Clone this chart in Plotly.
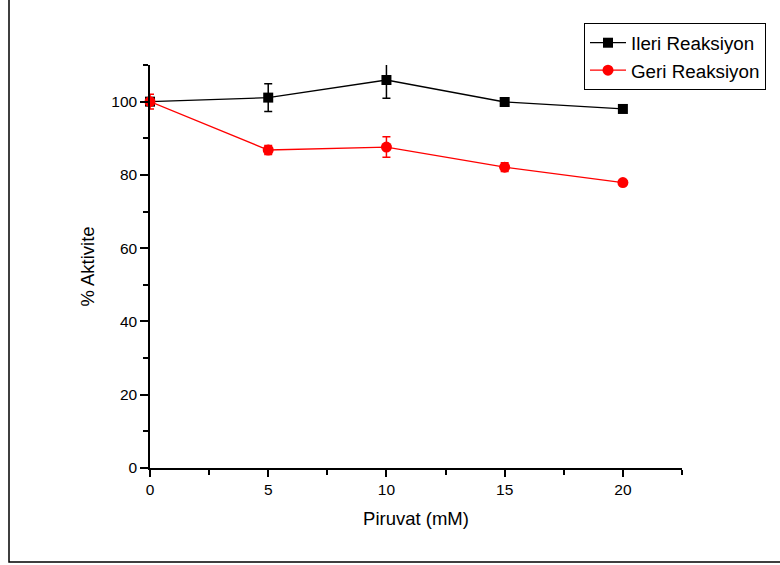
import plotly.graph_objects as go

piruvat = [0, 5, 10, 15, 20]
ileri = [100.0, 101.1, 105.9, 99.9, 98.0]
ileri_err = [0.6, 3.8, 5.0, 0.5, 0.8]
geri = [100.0, 86.8, 87.6, 82.1, 77.9]
geri_err = [2.0, 1.2, 2.8, 1.2, 0.6]

FONT = "Liberation Sans, Arial, sans-serif"

fig = go.Figure()
fig.add_trace(go.Scatter(
    x=piruvat, y=ileri, name="Ileri Reaksiyon", mode="lines+markers",
    line=dict(color="black", width=1.3),
    marker=dict(symbol="square", size=10, color="black"),
    error_y=dict(type="data", array=ileri_err, color="black", thickness=1.5, width=4),
    cliponaxis=False,
))
fig.add_trace(go.Scatter(
    x=piruvat, y=geri, name="Geri Reaksiyon", mode="lines+markers",
    line=dict(color="red", width=1.3),
    marker=dict(symbol="circle", size=11, color="red"),
    error_y=dict(type="data", array=geri_err, color="red", thickness=1.5, width=4),
    cliponaxis=False,
))

W, H = 780, 565
L, R, T, B = 150, 98, 65, 97
pw, ph = W - L - R, H - T - B

def px(xp):
    return (xp - L) / pw

def py(yp):
    return (H - B - yp) / ph

fig.update_layout(
    width=W, height=H,
    margin=dict(l=L, r=R, t=T, b=B),
    paper_bgcolor="white", plot_bgcolor="white",
    font=dict(family=FONT, size=15, color="black"),
    showlegend=True,
    legend=dict(
        x=px(584), y=py(23), xanchor="left", yanchor="top",
        bgcolor="white", bordercolor="black", borderwidth=1,
        font=dict(family=FONT, size=18.8, color="black"),
        tracegroupgap=0, itemwidth=36,
    ),
    xaxis=dict(
        range=[0, 22.5], showgrid=False, zeroline=False,
        showline=True, linecolor="black", linewidth=1.5,
        ticks="outside", tickcolor="black", ticklen=7, tickwidth=1.5,
        tickvals=[0, 5, 10, 15, 20],
        minor=dict(tickvals=[2.5, 7.5, 12.5, 17.5, 22.5], ticks="outside", ticklen=5,
                   tickwidth=1.5, tickcolor="black", showgrid=False),
        tickfont=dict(family=FONT, size=15.5),
        title=dict(text="Piruvat (mM)", font=dict(family=FONT, size=18.5), standoff=15),
        automargin=False,
    ),
    yaxis=dict(
        range=[0, 110], showgrid=False, zeroline=False,
        showline=True, linecolor="black", linewidth=1.5,
        ticks="outside", tickcolor="black", ticklen=8, tickwidth=1.5,
        tickvals=[0, 20, 40, 60, 80, 100],
        minor=dict(tickvals=[10, 30, 50, 70, 90, 110], ticks="outside", ticklen=5,
                   tickwidth=1.5, tickcolor="black", showgrid=False),
        tickfont=dict(family=FONT, size=15.5),
        title=dict(text="% Aktivite", font=dict(family=FONT, size=18.5), standoff=12),
        automargin=False,
    ),
    shapes=[dict(
        type="rect", xref="paper", yref="paper",
        x0=px(9), x1=px(W + 20), y0=py(562), y1=py(-20),
        line=dict(color="black", width=1.5), fillcolor="rgba(0,0,0,0)", layer="below",
    )],
)

fig.write_html("out.html")
